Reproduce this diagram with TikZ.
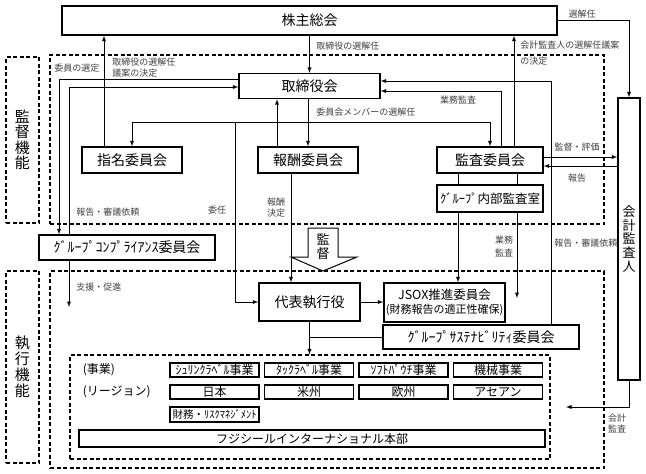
\documentclass[tikz,border=0pt]{standalone}
\usepackage{fontspec}
\setmainfont{Noto Sans CJK JP}

\begin{document}
\begin{tikzpicture}[x=1pt,y=-1pt,>=latex,line width=0.9pt,
  box/.style={draw,line width=1.4pt,fill=white,inner sep=0pt,font=\fontsize{14}{16}\selectfont},
  ubox/.style={draw,line width=1.6pt,fill=white,inner sep=0pt,minimum width=89pt,minimum height=14pt,font=\fontsize{12}{12}\selectfont},
  frame/.style={draw,line width=1.1pt,dash pattern=on 4pt off 2.5pt,inner sep=0pt},
  lbl/.style={font=\fontsize{9}{11}\selectfont,text=black!75,inner sep=1pt}]
\useasboundingbox (0,0) rectangle (646,474);

\node[frame,minimum width=554pt,minimum height=169pt] (sup) at (327,139.5) {};
\node[frame,minimum width=554pt,minimum height=197pt] (exe) at (327,369.5) {};
\node[frame,minimum width=480pt,minimum height=104pt] (units) at (310,407) {};
\node[frame,minimum width=33pt,minimum height=166pt,align=center,font=\fontsize{15}{15.5}\selectfont] (supl) at (22.5,140) {監\\督\\機\\能};
\node[frame,minimum width=33pt,minimum height=192pt,align=center,font=\fontsize{15}{16}\selectfont] (exel) at (22.5,367) {執\\行\\機\\能};

\node[box,minimum width=495pt,minimum height=29pt] (gm) at (309.5,20.5) {株主総会};
\node[box,minimum width=141pt,minimum height=25pt] (bod) at (309.5,86) {取締役会};
\node[box,minimum width=100pt,minimum height=26pt] (nom) at (132,160) {指名委員会};
\node[box,minimum width=100pt,minimum height=26pt] (rem) at (308,160) {報酬委員会};
\node[box,minimum width=106pt,minimum height=26pt] (aud) at (490,160) {監査委員会};
\node[box,minimum width=106pt,minimum height=27pt,font=\fontsize{12.5}{14}\selectfont] (ia) at (490,198.5) {ｸﾞﾙｰﾌﾟ内部監査室};
\node[box,minimum width=176pt,minimum height=25pt] (comp) at (127,247.5) {ｸﾞﾙｰﾌﾟｺﾝﾌﾟﾗｲｱﾝｽ委員会};
\node[box,minimum width=101pt,minimum height=38pt] (ceo) at (309.5,302) {代表執行役};
\node[box,minimum width=121pt,minimum height=39pt,align=center,font=\fontsize{12.5}{14}\selectfont] (jsox) at (444.5,302.5) {JSOX推進委員会\\{\fontsize{11}{12}\selectfont (財務報告の適正性確保)}};
\node[box,minimum width=196pt,minimum height=24pt] (sus) at (481,337) {ｸﾞﾙｰﾌﾟｻｽﾃﾅﾋﾞﾘﾃｨ委員会};
\node[box,minimum width=22pt,minimum height=282pt,align=center,font=\fontsize{13}{13.6}\selectfont] (acc) at (629,239) {会\\計\\監\\査\\人};

\node[anchor=west,font=\fontsize{12}{12}\selectfont] (bizl) at (79,370) {(事業)};
\node[anchor=west,font=\fontsize{12}{12}\selectfont] (regl) at (79,392) {(リージョン)};
\foreach \txt [count=\i] in {ｼｭﾘﾝｸﾗﾍﾞﾙ事業,ﾀｯｸﾗﾍﾞﾙ事業,ｿﾌﾄﾊﾟｳﾁ事業,機械事業}
  \node[ubox] (biz\i) at ({120+94.5*\i},370) {\txt};
\foreach \txt [count=\i] in {日本,米州,欧州,アセアン}
  \node[ubox] (reg\i) at ({120+94.5*\i},392) {\txt};
\node[ubox,minimum height=15pt,font=\fontsize{10.5}{11}\selectfont] (risk) at (214.5,414.5) {財務・ﾘｽｸﾏﾈｼﾞﾒﾝﾄ};
\node[box,minimum width=466pt,minimum height=17pt,font=\fontsize{12}{13}\selectfont] (hq) at (312,438.5) {フジシールインターナショナル本部};

\draw[line width=1pt,fill=white] (308,228) -- (338,228) -- (338,257) -- (357,257) -- (323,271) -- (291,257) -- (308,257) -- cycle;
\node[align=center,font=\fontsize{13}{14}\selectfont,inner sep=0pt] (kan) at (323,247) {監\\督};

\draw[->] (gm) -- (bod);
\draw[->] ([xshift=-28pt]nom.north) -- ([xshift=-28pt]nom.north |- gm.south);
\coordinate (jn) at (308,122);
\coordinate (jd) at (235,122);
\draw[->] (bod.south -| jn) -- (rem.north -| jn);
\draw[->] (jn) -| (nom.north);
\draw[->] (jn) -| (aud.north);
\draw[->] (jd) |- (ceo.west);
\draw[->] ([xshift=-31pt]rem.north) -- ([xshift=-31pt]rem.north |- bod.south);
\draw[->] ([xshift=-17pt]rem.south) -- ([xshift=-17pt]rem.south |- ceo.north);
\draw[->] ([xshift=11pt]aud.north) |- ([yshift=-5pt]bod.east);
\draw[->] ([xshift=70pt]sus.north) |- ([yshift=5pt]bod.east);
\draw[->] ([xshift=24pt]aud.north) -- ([xshift=24pt]aud.north |- gm.south);
\draw[->] (gm.east) -| (acc.north);
\draw[->] ([yshift=3pt]aud.east) -- ([yshift=3pt]aud.east -| acc.west);
\draw[->] ([yshift=-6pt]aud.east -| acc.west) -- ([yshift=-6pt]aud.east);
\foreach \dx in {-32,27}
  \draw ([xshift=\dx pt]aud.south) -- ([xshift=\dx pt]ia.north);
\draw[->] ([xshift=-32pt]ia.south) -- ([xshift=-32pt]ia.south |- jsox.north);
\coordinate (iaend) at (517,298);
\draw[->] ([xshift=27pt]ia.south) -- (iaend);
\draw[->] ([yshift=7pt]bod.west) -| ([xshift=-68pt]comp.north);
\draw[->] ([xshift=-58pt]comp.north) |- ([yshift=-1pt]bod.west);
\coordinate (compend) at (69,307);
\draw[->] ([xshift=-58pt]comp.south) -- (compend);
\draw[->] (ceo.east) -- (ceo.east -| jsox.west);
\draw[->] (ceo.south) -- (ceo.south |- units.north);
\draw (ceo.south |- sus.west) -- (sus.west);
\coordinate (accend) at (566,407);
\draw[->] (acc.south) |- (accend);

\node[lbl,anchor=west] (l1) at (315,46) {取締役の選解任};
\node[lbl,anchor=west,align=left] (l2) at (111,67.5) {取締役の選解任\\議案の決定};
\node[lbl,anchor=west] (l3) at (53,68) {委員の選定};
\node[lbl,anchor=west] (l4) at (315,112) {委員会メンバーの選解任};
\node[lbl] (l5) at (458,100) {業務監査};
\node[lbl,anchor=west,align=left,font=\fontsize{9}{16}\selectfont] (l6) at (519,53) {会計監査人の選解任議案\\の決定};
\node[lbl] (l7) at (582,14) {選解任};
\node[lbl] (l8) at (577,147) {監督・評価};
\node[lbl] (l9) at (577,178) {報告};
\node[lbl,anchor=west] (l10) at (75,212) {報告・審議依頼};
\node[lbl] (l11) at (217,210) {委任};
\node[lbl,align=center] (l12) at (276,208) {報酬\\決定};
\node[lbl,align=center,font=\fontsize{9}{13}\selectfont] (l13) at (504,246) {業務\\監査};
\node[lbl,anchor=west] (l14) at (553,243) {報告・審議依頼};
\node[lbl,anchor=west] (l15) at (75,287) {支援・促進};
\node[lbl,align=center] (l16) at (617,423) {会計\\監査};
\end{tikzpicture}
\end{document}
